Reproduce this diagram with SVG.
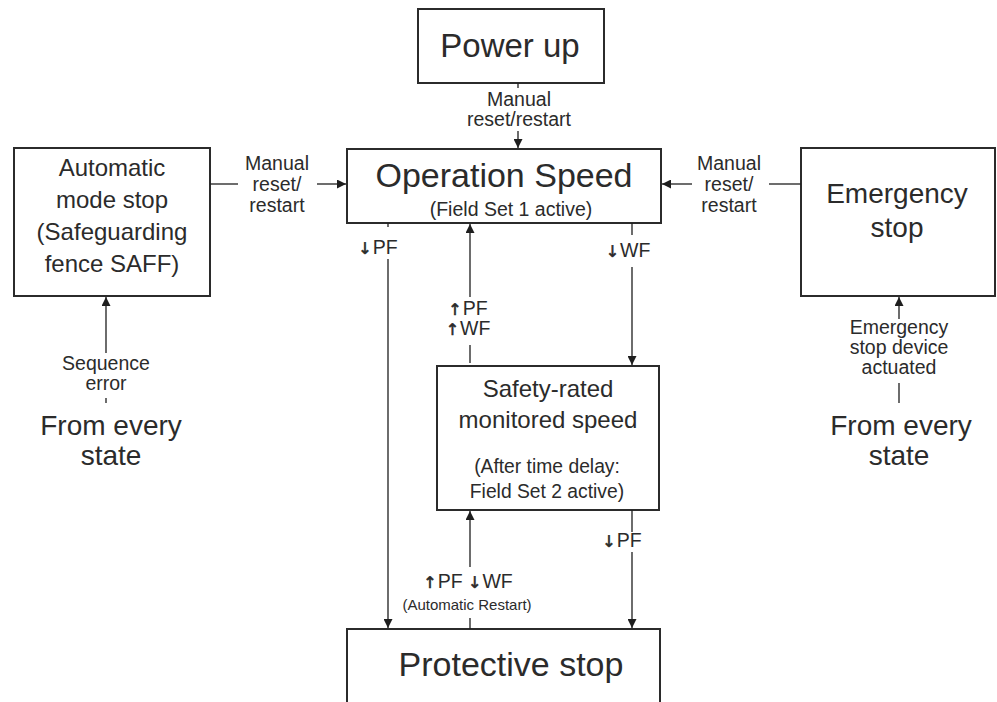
<svg xmlns="http://www.w3.org/2000/svg" width="997" height="702" viewBox="0 0 997 702">
<defs>
<style>
text{font-family:"Liberation Sans",Arial,sans-serif;fill:#2b2b2b;text-anchor:middle}
.box{fill:#fff;stroke:#2b2b2b;stroke-width:2}
.c{fill:none;stroke:#1e1e1e;stroke-width:1.3}
.lbl{font-size:19.5px}
.big{font-size:28px}
.sm{font-size:15px}
.ar{font-family:"DejaVu Sans",sans-serif;font-size:16px;fill:#2b2b2b;stroke:#2b2b2b;stroke-width:0.6}
</style>
<marker id="ah" viewBox="0 0 10 10" refX="10" refY="5" markerWidth="9" markerHeight="9" markerUnits="userSpaceOnUse" orient="auto">
<path d="M0,0 L10,5 L0,10 z" fill="#1e1e1e"/>
</marker>
</defs>
<rect width="997" height="702" fill="#fff"/>

<g id="power-up">
<rect class="box" x="418" y="9" width="186" height="74"/>
<text x="510" y="57" style="font-size:33px">Power up</text>
</g>

<g id="operation-speed">
<rect class="box" x="347" y="149" width="314" height="74"/>
<text x="504" y="187" style="font-size:34px">Operation Speed</text>
<text x="511" y="216" style="font-size:19.5px">(Field Set 1 active)</text>
</g>

<g id="automatic-mode-stop">
<rect class="box" x="14" y="148" width="196" height="148"/>
<text x="112" y="176" style="font-size:24px">Automatic</text>
<text x="112" y="208" style="font-size:24px">mode stop</text>
<text x="112" y="240" style="font-size:24px">(Safeguarding</text>
<text x="112" y="272" style="font-size:24px">fence SAFF)</text>
</g>

<g id="emergency-stop">
<rect class="box" x="801" y="148" width="194" height="148"/>
<text x="897" y="203" style="font-size:28px">Emergency</text>
<text x="897" y="237" style="font-size:28px">stop</text>
</g>

<g id="safety-rated-monitored-speed">
<rect class="box" x="437" y="366" width="222" height="144"/>
<text x="548" y="397" style="font-size:24px">Safety-rated</text>
<text x="548" y="428" style="font-size:24px">monitored speed</text>
<text x="547" y="473" style="font-size:19.3px">(After time delay:</text>
<text x="547" y="498" style="font-size:19.3px">Field Set 2 active)</text>
</g>

<g id="protective-stop">
<rect class="box" x="347" y="629" width="313" height="90"/>
<text x="511" y="676" style="font-size:34px">Protective stop</text>
</g>

<g id="from-every-state-left">
<text class="big" x="111" y="435">From every</text>
<text class="big" x="111" y="465">state</text>
</g>

<g id="from-every-state-right">
<text class="big" x="901" y="435">From every</text>
<text class="big" x="899" y="465">state</text>
</g>

<g id="connectors">
<!-- Power up -> Operation Speed -->
<line class="c" x1="518" y1="83" x2="518" y2="88"/>
<line class="c" x1="518" y1="131" x2="518" y2="148" marker-end="url(#ah)"/>
<text class="lbl" x="519" y="106">Manual</text>
<text class="lbl" x="519" y="126">reset/restart</text>

<!-- Automatic mode stop -> Operation Speed -->
<line class="c" x1="210" y1="184" x2="238" y2="184"/>
<line class="c" x1="317" y1="184" x2="346" y2="184" marker-end="url(#ah)"/>
<text class="lbl" x="277" y="170">Manual</text>
<text class="lbl" x="277" y="191">reset/</text>
<text class="lbl" x="277" y="212">restart</text>

<!-- Emergency stop -> Operation Speed -->
<line class="c" x1="801" y1="184" x2="769" y2="184"/>
<line class="c" x1="692" y1="184" x2="662" y2="184" marker-end="url(#ah)"/>
<text class="lbl" x="729" y="170">Manual</text>
<text class="lbl" x="729" y="191">reset/</text>
<text class="lbl" x="729" y="212">restart</text>

<!-- Sequence error -> Automatic mode stop -->
<line class="c" x1="106" y1="353" x2="106" y2="297" marker-end="url(#ah)"/>
<line class="c" x1="106" y1="398" x2="106" y2="403"/>
<text class="lbl" x="106" y="370">Sequence</text>
<text class="lbl" x="106" y="390">error</text>

<!-- Emergency stop device actuated -> Emergency stop -->
<line class="c" x1="899" y1="319" x2="899" y2="297" marker-end="url(#ah)"/>
<line class="c" x1="899" y1="383" x2="899" y2="403"/>
<text class="lbl" x="899" y="334">Emergency</text>
<text class="lbl" x="899" y="354">stop device</text>
<text class="lbl" x="899" y="374">actuated</text>

<!-- Operation Speed -> Protective stop (PF down) -->
<line class="c" x1="388" y1="223" x2="388" y2="227"/>
<line class="c" x1="388" y1="259" x2="388" y2="628" marker-end="url(#ah)"/>
<text class="lbl" x="378" y="254"><tspan class="ar">↓</tspan><tspan dx="1">PF</tspan></text>

<!-- Operation Speed -> SRMS (WF down) -->
<line class="c" x1="632" y1="223" x2="632" y2="235"/>
<line class="c" x1="632" y1="267" x2="632" y2="365" marker-end="url(#ah)"/>
<text class="lbl" x="628" y="257"><tspan class="ar">↓</tspan><tspan dx="1">WF</tspan></text>

<!-- SRMS -> Operation Speed (PF up, WF up) -->
<line class="c" x1="470" y1="363" x2="470" y2="345"/>
<line class="c" x1="470" y1="297" x2="470" y2="224" marker-end="url(#ah)"/>
<text class="lbl" x="468" y="315"><tspan class="ar">↑</tspan><tspan dx="1">PF</tspan></text>
<text class="lbl" x="468" y="335"><tspan class="ar">↑</tspan><tspan dx="1">WF</tspan></text>

<!-- SRMS -> Protective stop (PF down) -->
<line class="c" x1="632" y1="510" x2="632" y2="532"/>
<line class="c" x1="632" y1="552" x2="632" y2="628" marker-end="url(#ah)"/>
<text class="lbl" x="622" y="547"><tspan class="ar">↓</tspan><tspan dx="1">PF</tspan></text>

<!-- Protective stop -> SRMS (automatic restart) -->
<line class="c" x1="470" y1="629" x2="470" y2="618"/>
<line class="c" x1="470" y1="567" x2="470" y2="511" marker-end="url(#ah)"/>
<text class="lbl" x="468" y="588"><tspan class="ar">↑</tspan><tspan dx="1">PF </tspan><tspan class="ar">↓</tspan><tspan dx="1">WF</tspan></text>
<text class="sm" x="467" y="610">(Automatic Restart)</text>
</g>
</svg>
